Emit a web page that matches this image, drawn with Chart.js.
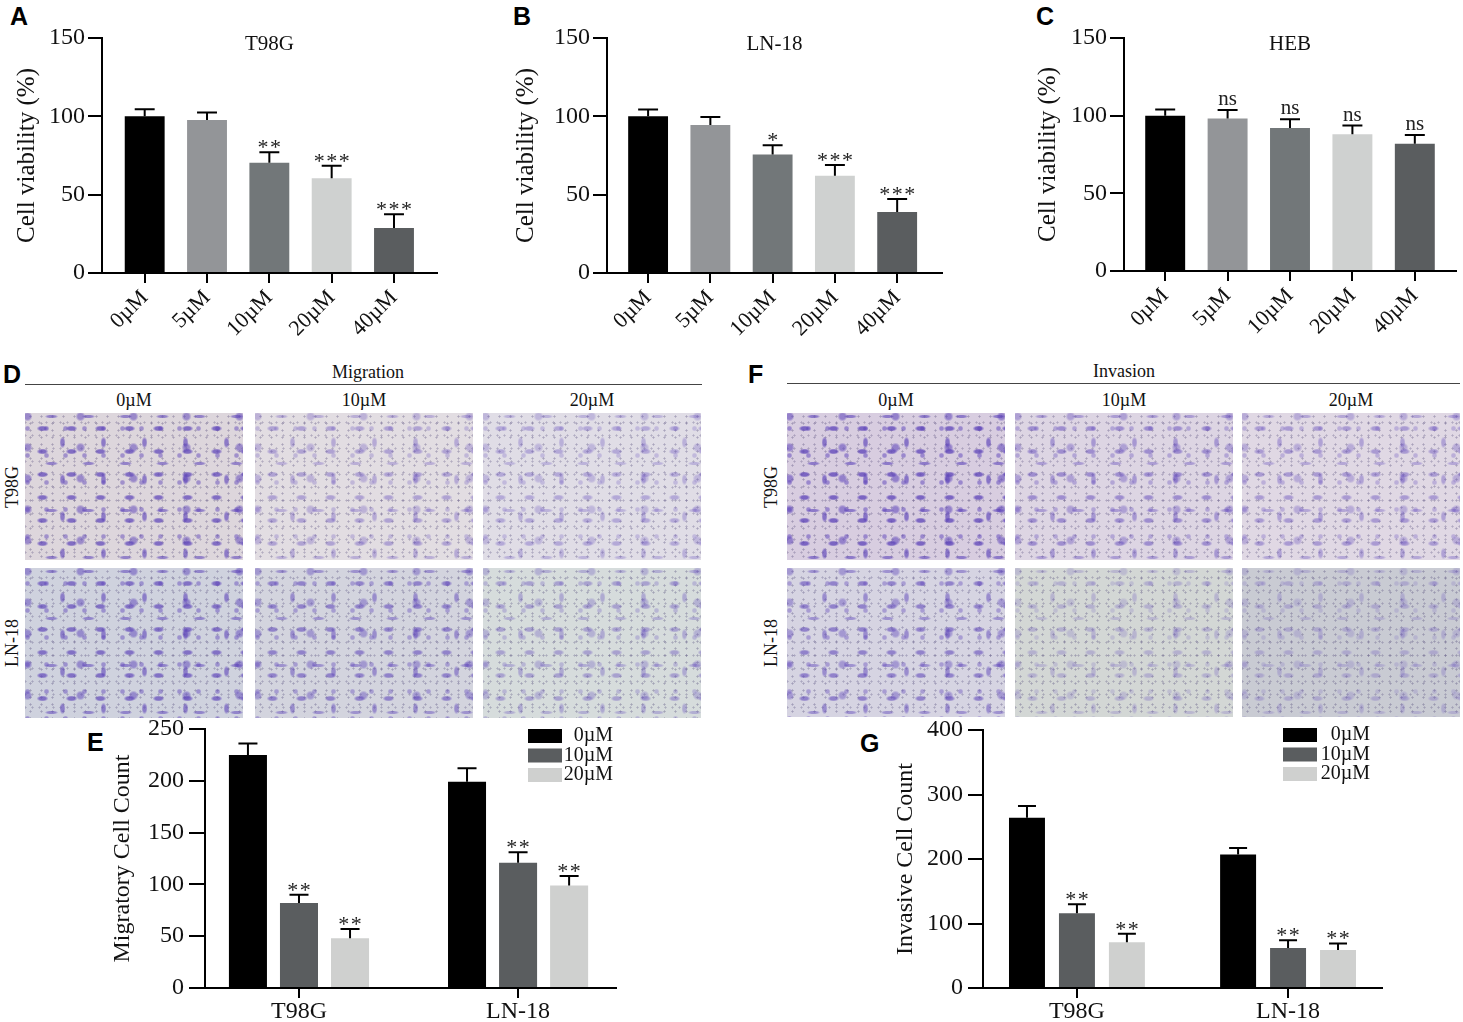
<!DOCTYPE html>
<html>
<head>
<meta charset="utf-8">
<script src="https://cdn.jsdelivr.net/npm/chart.js@4.4.1/dist/chart.umd.min.js"></script>
<style>
body { margin:0; background:#fff; }
#fig { position:relative; width:1463px; height:1022px; overflow:hidden; font-family:'Liberation Serif','Times New Roman',serif; color:#111; background:#fff; }
#fig canvas { position:absolute; }
.lt { position:absolute; font:bold 25px 'Liberation Sans',Arial,sans-serif; line-height:1; color:#000; }
.tx { position:absolute; font-size:18px; line-height:1; transform:translate(-50%,-50%); white-space:nowrap; }
.rl { position:absolute; font-size:18px; line-height:1; transform:translate(-50%,-50%) rotate(-90deg); white-space:nowrap; }
.hr { position:absolute; height:0; border-top:1.5px solid #444; }
.ph { position:absolute; }
</style>
</head>
<body>
<div id="fig">
  <div class="lt" style="left:10px;top:4px">A</div>
  <div class="lt" style="left:513px;top:4px">B</div>
  <div class="lt" style="left:1036px;top:4px">C</div>
  <div class="lt" style="left:3px;top:362px">D</div>
  <div class="lt" style="left:748px;top:362px">F</div>
  <div class="lt" style="left:87px;top:730px">E</div>
  <div class="lt" style="left:860px;top:731px">G</div>

  <div class="tx" style="left:368px;top:372px">Migration</div>
  <div class="hr" style="left:25px;top:384px;width:677px"></div>
  <div class="tx" style="left:1124px;top:371px">Invasion</div>
  <div class="hr" style="left:787px;top:383px;width:673px"></div>
</div>
<script>
// ---- data ----
const doses = ['0µM', '5µM', '10µM', '20µM', '40µM'];
const viabTicks = [0, 50, 100, 150];
const doseColors = ['#000000', '#939598', '#727779', '#cfd1d0', '#5a5d5f'];

const t98gViab = [100, 97.7, 70.4, 60.4, 28.8];
const t98gViabErr = [4.5, 4.7, 6.6, 8.1, 8.7];
const t98gViabSig = ['', '', '**', '***', '***'];

const ln18Viab = [100, 94.5, 75.7, 62, 38.9];
const ln18ViabErr = [4.3, 5.1, 5.8, 7, 8.3];
const ln18ViabSig = ['', '', '*', '***', '***'];

const hebViab = [100, 98.1, 92.1, 88, 82];
const hebViabErr = [4, 5.6, 5.6, 5.6, 5.6];
const hebViabSig = ['', 'ns', 'ns', 'ns', 'ns'];

const cellLines = ['T98G', 'LN-18'];
const transDoses = ['0µM', '10µM', '20µM'];
const transColors = ['#000000', '#5a5d5f', '#cfd0cf'];

const migration0 = [225, 199];
const migration10 = [82, 121];
const migration20 = [48, 99];
const migrationErr0 = [11, 13];
const migrationErr10 = [8, 10];
const migrationErr20 = [9, 9];
const migrationSig0 = ['', ''];
const migrationSig10 = ['**', '**'];
const migrationSig20 = ['**', '**'];
const migrationTicks = [0, 50, 100, 150, 200, 250];

const invasion0 = [264, 207];
const invasion10 = [116, 62];
const invasion20 = [71, 59];
const invasionErr0 = [18, 10];
const invasionErr10 = [14, 12];
const invasionErr20 = [13, 10];
const invasionSig0 = ['', ''];
const invasionSig10 = ['**', '**'];
const invasionSig20 = ['**', '**'];
const invasionTicks = [0, 100, 200, 300, 400];

const serif = "'Liberation Serif', 'Times New Roman', serif";
const fig = document.getElementById('fig');

// ---- error bars, stars, titles, legends ----
const barMarks = {
  id: 'barMarks',
  afterDatasetsDraw(chart, args, opts) {
    const ctx = chart.ctx, y = chart.scales.y, area = chart.chartArea;
    chart.data.datasets.forEach((ds, di) => {
      const meta = chart.getDatasetMeta(di);
      meta.data.forEach((bar, i) => {
        const top = y.getPixelForValue(ds.data[i].y + ds.errors[i]);
        const half = bar.width / 4;
        ctx.save();
        ctx.strokeStyle = '#000';
        ctx.lineWidth = 2;
        ctx.beginPath();
        ctx.moveTo(bar.x, bar.y);
        ctx.lineTo(bar.x, top);
        ctx.moveTo(bar.x - half, top);
        ctx.lineTo(bar.x + half, top);
        ctx.stroke();
        const s = ds.sig[i];
        ctx.fillStyle = '#222';
        ctx.textAlign = 'center';
        ctx.textBaseline = 'alphabetic';
        if (s === 'ns') {
          ctx.font = '21px ' + serif;
          ctx.fillText(s, bar.x, top - 5);
        } else if (s) {
          ctx.font = '22px ' + serif;
          const gap = 12.5;
          for (let k = 0; k < s.length; k++) {
            ctx.fillText('*', bar.x + (k - (s.length - 1) / 2) * gap, top + 2);
          }
        }
        ctx.restore();
      });
    });
    ctx.save();
    if (opts.title) {
      ctx.font = '21px ' + serif;
      ctx.fillStyle = '#111';
      ctx.textAlign = 'center';
      ctx.textBaseline = 'middle';
      ctx.fillText(opts.title, (area.left + area.right) / 2, area.top + 6);
    }
    if (opts.legend) {
      const L = opts.legend;
      ctx.font = '20px ' + serif;
      ctx.textAlign = 'right';
      ctx.textBaseline = 'middle';
      chart.data.datasets.forEach((ds, di) => {
        const ty = area.top + L.dy + di * 19.5;
        ctx.fillStyle = ds.backgroundColor;
        ctx.fillRect(area.right - L.sq, ty, 34, 14);
        ctx.fillStyle = '#111';
        ctx.fillText(ds.label, area.right - L.tx, ty + 7);
      });
    }
    ctx.restore();
  }
};

function place(L) {
  const c = document.createElement('canvas');
  c.width = L.w; c.height = L.h;
  c.style.left = L.left + 'px'; c.style.top = L.top + 'px';
  c.style.width = L.w + 'px'; c.style.height = L.h + 'px';
  fig.appendChild(c);
  return c;
}

function axes(L, yMax, yTicks, yTitle, xLabels, tickFont, titleFont, rot) {
  return {
    x: {
      type: 'linear', min: L.xmin, max: L.xmax, offset: false,
      afterFit: s => { s.height = L.xh; },
      afterBuildTicks: s => { s.ticks = xLabels.map((_, i) => ({ value: i })); },
      grid: { display: true, offset: false, drawOnChartArea: false, drawTicks: true, tickLength: 10, color: '#000', lineWidth: 2 },
      border: { display: true, color: '#000', width: 2 },
      ticks: { stepSize: 1, autoSkip: false, minRotation: rot, maxRotation: rot, padding: L.xp,
               color: '#111', font: { family: serif, size: tickFont.x },
               callback: v => xLabels[v] }
    },
    y: {
      min: 0, max: yMax,
      afterFit: s => { s.width = L.yw; },
      afterBuildTicks: s => { s.ticks = yTicks.map(v => ({ value: v })); },
      grid: { display: true, drawOnChartArea: false, drawTicks: true, tickLength: L.tl, color: '#000', lineWidth: 2 },
      border: { display: true, color: '#000', width: 2 },
      ticks: { padding: L.tp, color: '#111', font: { family: serif, size: tickFont.y } },
      title: { display: true, text: yTitle, color: '#111', font: { family: serif, size: titleFont },
               padding: { top: L.titlePad, bottom: 0 } }
    }
  };
}

function viabChart(L, title, vals, errs, sigs) {
  new Chart(place(L), {
    type: 'bar',
    data: {
      datasets: [{
        data: doses.map((_, i) => ({ x: i, y: vals[i] })),
        errors: errs, sig: sigs,
        backgroundColor: doseColors,
        borderWidth: 0,
        categoryPercentage: 0.8, barPercentage: 0.8
      }]
    },
    options: {
      responsive: false, animation: false,
      layout: { padding: { top: L.padTop, right: L.padRight, left: 0, bottom: 0 } },
      plugins: { legend: { display: false }, tooltip: { enabled: false }, barMarks: { title: title } },
      scales: axes(L, 150, viabTicks, 'Cell viability (%)', doses, { x: 22, y: 24 }, 25, 45)
    },
    plugins: [barMarks]
  });
}

function countChart(L, yTitle, yMax, yTicks, vals, errs, sigs, legend) {
  new Chart(place(L), {
    type: 'bar',
    data: {
      datasets: transDoses.map((d, k) => ({
        label: d,
        data: cellLines.map((_, i) => ({ x: i, y: vals[k][i] })),
        errors: errs[k], sig: sigs[k],
        backgroundColor: transColors[k],
        borderWidth: 0,
        categoryPercentage: L.cat, barPercentage: L.bar
      }))
    },
    options: {
      responsive: false, animation: false,
      layout: { padding: { top: L.padTop, right: L.padRight, left: 0, bottom: 0 } },
      plugins: { legend: { display: false }, tooltip: { enabled: false }, barMarks: { legend: legend } },
      scales: axes(L, yMax, yTicks, yTitle, cellLines, { x: 24, y: 24 }, 24, 0)
    },
    plugins: [barMarks]
  });
}

viabChart({ left: 0, top: 0, w: 445, h: 350, yw: 102, xh: 77, padTop: 38, padRight: 8,
            xmin: -0.685, xmax: 4.69, tl: 14, tp: 3, xp: 2, titlePad: 12 },
          'T98G', t98gViab, t98gViabErr, t98gViabSig);
viabChart({ left: 505, top: 0, w: 445, h: 350, yw: 102, xh: 77, padTop: 38, padRight: 8,
            xmin: -0.66, xmax: 4.72, tl: 14, tp: 3, xp: 2, titlePad: 6 },
          'LN-18', ln18Viab, ln18ViabErr, ln18ViabSig);
viabChart({ left: 1022, top: 0, w: 441, h: 350, yw: 102, xh: 79, padTop: 38, padRight: 7,
            xmin: -0.66, xmax: 4.66, tl: 14, tp: 3, xp: 2, titlePad: 11 },
          'HEB', hebViab, hebViabErr, hebViabSig);

countChart({ left: 100, top: 700, w: 525, h: 322, yw: 105, xh: 34, padTop: 29, padRight: 9,
             xmin: -0.429, xmax: 1.447, tl: 16, tp: 5, xp: -1, titlePad: 8, cat: 0.699, bar: 0.745 },
           'Migratory Cell Count', 250, migrationTicks,
           [migration0, migration10, migration20],
           [migrationErr0, migrationErr10, migrationErr20],
           [migrationSig0, migrationSig10, migrationSig20],
           { sq: 88, tx: 3, dy: 0 });
countChart({ left: 860, top: 700, w: 530, h: 322, yw: 123, xh: 34, padTop: 30, padRight: 8,
             xmin: -0.445, xmax: 1.445, tl: 15, tp: 5, xp: -1, titlePad: 31, cat: 0.71, bar: 0.72 },
           'Invasive Cell Count', 400, invasionTicks,
           [invasion0, invasion10, invasion20],
           [invasionErr0, invasionErr10, invasionErr20],
           [invasionSig0, invasionSig10, invasionSig20],
           { sq: 99, tx: 12, dy: -2 });

// ---- transwell photo placeholders (panels D and F) ----
function blob(rx, ry, a, w, h, ox, oy) {
  return `radial-gradient(${rx}px ${ry}px at 50% 50%, rgba(92,66,185,${a.toFixed(2)}) 0 55%, transparent 100%) ${ox}px ${oy}px/${w}px ${h}px`;
}
function tex(base, d) {
  return [
    blob(6, 3, 0.75 * d, 29, 23, 3, 4),
    blob(3, 6, 0.65 * d, 41, 37, 17, 11),
    blob(5, 5, 0.55 * d, 53, 31, 29, 19),
    blob(7, 2, 0.6 * d, 37, 47, 8, 27),
    blob(3, 3, 0.5 * d, 19, 27, 12, 2),
    'radial-gradient(circle, rgba(70,60,110,.35) 0 .8px, transparent 1.4px) 0 0/11px 7px',
    'radial-gradient(circle, rgba(70,60,110,.3) 0 .8px, transparent 1.4px) 4px 3px/7px 13px',
    base
  ].join(',');
}
function photoPanel(cols, colW, rows, rowH, labelX, headerY, colColors, density, rowNames) {
  cols.forEach((x, ci) => {
    const t = document.createElement('div');
    t.className = 'tx';
    t.style.left = (x + colW / 2) + 'px'; t.style.top = headerY + 'px';
    t.textContent = transDoses[ci];
    fig.appendChild(t);
  });
  rows.forEach((y, ri) => {
    const r = document.createElement('div');
    r.className = 'rl';
    r.style.left = labelX + 'px'; r.style.top = (y + rowH[ri] / 2) + 'px';
    r.textContent = rowNames[ri];
    fig.appendChild(r);
    cols.forEach((x, ci) => {
      const p = document.createElement('div');
      p.className = 'ph';
      p.style.left = x + 'px'; p.style.top = y + 'px';
      p.style.width = colW + 'px'; p.style.height = rowH[ri] + 'px';
      p.style.background = tex(colColors[ri][ci], density[ri][ci]);
      fig.appendChild(p);
    });
  });
}
photoPanel([25, 255, 483], 218, [413, 568], [147, 150], 12, 400,
  [['#ddd6dc', '#e2dde2', '#e0dde6'], ['#cfd2de', '#d3d4de', '#d6dcdc']],
  [[0.95, 0.5, 0.45], [0.9, 0.75, 0.5]], cellLines);
photoPanel([787, 1015, 1242], 218, [413, 568], [147, 149], 771, 400,
  [['#d8cde0', '#ddd5e3', '#e0d8e4'], ['#d6d4e2', '#d3d7d5', '#c9cbd3']],
  [[1.0, 0.65, 0.55], [0.75, 0.35, 0.35]], cellLines);
</script>
</body>
</html>
